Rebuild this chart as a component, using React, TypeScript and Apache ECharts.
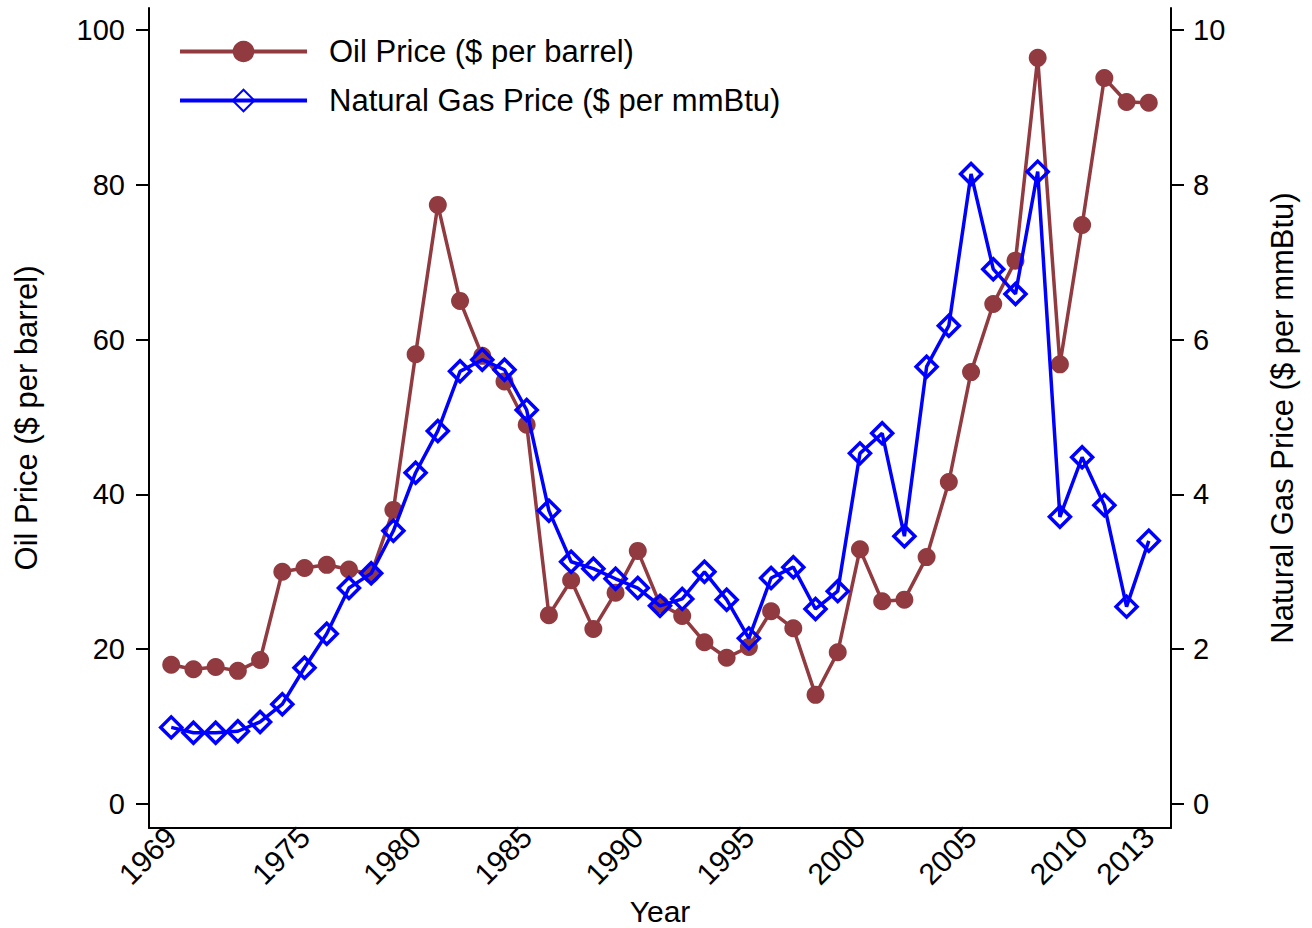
import React, { useEffect, useRef } from "react";
import * as echarts from "echarts";

const years: number[] = [
  1969, 1970, 1971, 1972, 1973, 1974, 1975, 1976, 1977, 1978, 1979, 1980, 1981,
  1982, 1983, 1984, 1985, 1986, 1987, 1988, 1989, 1990, 1991, 1992, 1993, 1994,
  1995, 1996, 1997, 1998, 1999, 2000, 2001, 2002, 2003, 2004, 2005, 2006, 2007,
  2008, 2009, 2010, 2011, 2012, 2013,
];

const oilPrice: number[] = [
  18.0, 17.4, 17.7, 17.2, 18.6, 30.0, 30.5, 30.9, 30.3, 29.7, 38.0, 58.1, 77.4,
  65.0, 57.9, 54.6, 49.0, 24.4, 28.9, 22.6, 27.3, 32.7, 25.8, 24.3, 20.9, 18.9,
  20.3, 24.9, 22.7, 14.1, 19.6, 32.9, 26.2, 26.4, 31.9, 41.6, 55.8, 64.6, 70.2,
  96.4, 56.8, 74.8, 93.8, 90.7, 90.6,
];

const gasPrice: number[] = [
  0.99, 0.92, 0.92, 0.94, 1.06, 1.29, 1.76, 2.2, 2.79, 2.98, 3.53, 4.28, 4.82,
  5.59, 5.74, 5.61, 5.09, 3.79, 3.13, 3.04, 2.91, 2.79, 2.56, 2.65, 3.0, 2.64,
  2.14, 2.92, 3.06, 2.52, 2.75, 4.53, 4.79, 3.46, 5.65, 6.18, 8.14, 6.91, 6.59,
  8.17, 3.71, 4.48, 3.86, 2.55, 3.4,
];

const xTicks: number[] = [1969, 1975, 1980, 1985, 1990, 1995, 2000, 2005, 2010, 2013];
const leftTicks: number[] = [0, 20, 40, 60, 80, 100];
const rightTicks: number[] = [0, 2, 4, 6, 8, 10];

const FONT = "'Liberation Sans', Arial, sans-serif";
const OIL_COLOR = "#913A40";
const GAS_COLOR = "#0000FF";

export default function App() {
  const ref = useRef<HTMLDivElement>(null);

  useEffect(() => {
    if (!ref.current) return;
    const chart = echarts.init(ref.current, null, { renderer: "svg" });
    const axisLine = { show: true, onZero: false, lineStyle: { color: "#000", width: 2 } };
    chart.setOption({
      animation: false,
      backgroundColor: "#fff",
      textStyle: { fontFamily: FONT, color: "#000" },
      grid: {
        left: 149,
        right: 141,
        top: 8,
        bottom: 100,
        containLabel: false,
        outerBoundsMode: "none",
      },
      legend: {
        orient: "vertical",
        left: 178,
        top: 36,
        padding: 0,
        itemWidth: 127,
        itemHeight: 27,
        itemGap: 18,
        lineStyle: { width: 4 },
        textStyle: {
          fontFamily: FONT,
          fontSize: 31,
          lineHeight: 31,
          color: "#000",
          padding: [0, 0, 0, 17],
        },
        data: ["Oil Price ($ per barrel)", "Natural Gas Price ($ per mmBtu)"],
      },
      xAxis: {
        type: "value",
        min: 1968,
        max: 2014,
        name: "Year",
        nameLocation: "middle",
        nameGap: 56,
        nameTextStyle: { fontFamily: FONT, fontSize: 30, lineHeight: 30, color: "#000" },
        axisLine,
        axisTick: { show: false },
        splitLine: { show: false },
        axisLabel: {
          customValues: xTicks,
          rotate: 45,
          fontFamily: FONT,
          fontSize: 30,
          color: "#000",
          margin: 4,
          formatter: (v: number) => String(v),
        },
      },
      yAxis: [
        {
          type: "value",
          position: "left",
          min: -3.1,
          max: 102.84,
          name: "Oil Price ($ per barrel)",
          nameLocation: "middle",
          nameGap: 107,
          nameTextStyle: { fontFamily: FONT, fontSize: 31, color: "#000" },
          axisLine,
          axisTick: { show: true, length: 13, customValues: leftTicks, lineStyle: { color: "#000", width: 2 } },
          splitLine: { show: false },
          axisLabel: {
            customValues: leftTicks,
            fontFamily: FONT,
            fontSize: 29,
            color: "#000",
            margin: 24,
          },
        },
        {
          type: "value",
          position: "right",
          min: -0.31,
          max: 10.284,
          name: "Natural Gas Price ($ per mmBtu)",
          nameLocation: "middle",
          nameGap: 96,
          nameRotate: 90,
          nameTextStyle: { fontFamily: FONT, fontSize: 31, color: "#000" },
          axisLine,
          axisTick: { show: true, length: 13, customValues: rightTicks, lineStyle: { color: "#000", width: 2 } },
          splitLine: { show: false },
          axisLabel: {
            customValues: rightTicks,
            fontFamily: FONT,
            fontSize: 29,
            color: "#000",
            margin: 22,
          },
        },
      ],
      series: [
        {
          name: "Oil Price ($ per barrel)",
          type: "line",
          yAxisIndex: 0,
          data: years.map((y, i) => [y, oilPrice[i]]),
          symbol: "circle",
          symbolSize: 18,
          itemStyle: { color: OIL_COLOR },
          lineStyle: { color: OIL_COLOR, width: 3.5 },
          z: 2,
        },
        {
          name: "Natural Gas Price ($ per mmBtu)",
          type: "line",
          yAxisIndex: 1,
          data: years.map((y, i) => [y, gasPrice[i]]),
          symbol: "diamond",
          symbolSize: 21,
          showAllSymbol: true,
          itemStyle: { color: "rgba(255,255,255,0)", borderColor: GAS_COLOR, borderWidth: 3.5 },
          lineStyle: { color: GAS_COLOR, width: 3.5 },
          z: 3,
        },
      ],
    });
    return () => chart.dispose();
  }, []);

  return <div ref={ref} style={{ width: 1312, height: 928, position: "absolute", left: 0, top: 0 }} />;
}
